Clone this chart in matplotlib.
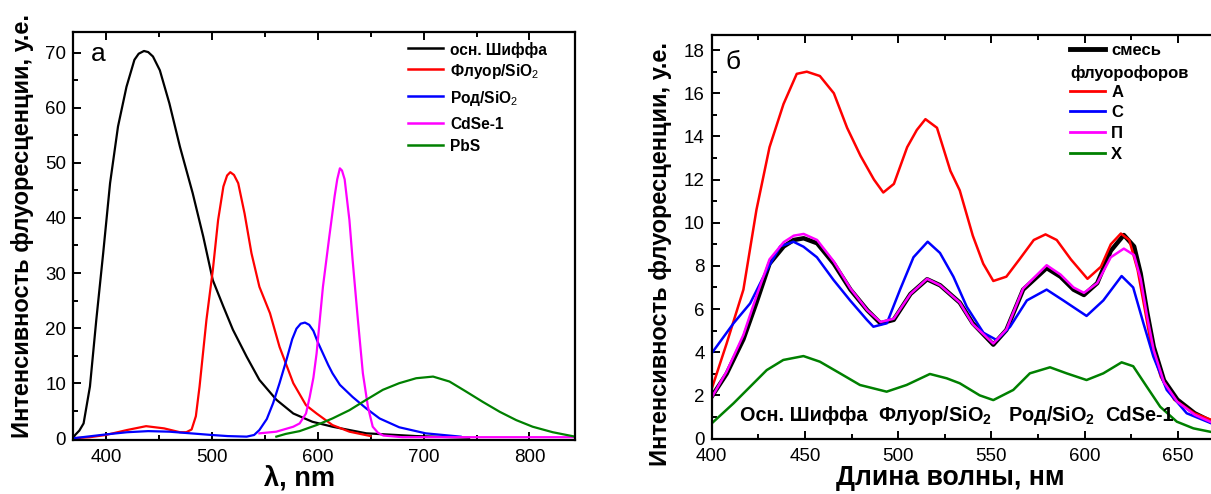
import numpy as np
import matplotlib
matplotlib.use("Agg")
import matplotlib.pyplot as plt
from matplotlib.ticker import MultipleLocator

plt.rcParams['font.family'] = ['Liberation Sans', 'DejaVu Sans']
plt.rcParams['mathtext.fontset'] = 'custom'
plt.rcParams['mathtext.rm'] = 'Liberation Sans'
plt.rcParams['mathtext.bf'] = 'Liberation Sans:bold'
plt.rcParams['lines.solid_joinstyle'] = 'round'

# --- panel (а): spectra of individual fluorophores ---
schiff_x = [369, 371, 375, 379, 385, 391, 397.5, 404, 411.5, 419.5, 427, 431, 436, 440, 444.5,
            451, 460, 470, 482, 492, 501, 511, 520, 533, 545, 561, 577, 595, 614, 646, 693, 743]
schiff_y = [0, 0.6, 1.4, 2.7, 9.4, 21.5, 33.6, 46.3, 56.6, 63.8, 68.7, 69.8, 70.3, 70.1, 69.3,
            66.8, 60.8, 52.9, 44.5, 36.6, 28.7, 23.9, 19.7, 14.8, 10.6, 7.0, 4.5, 3.0, 2.1, 0.9,
            0.4, 0.1]

fluor_x = [369, 385, 400, 420, 438, 455, 470, 476, 481, 485, 488.5, 495, 501, 506, 511, 514.5,
           517.5, 521, 525, 531, 537.5, 545, 555, 564, 577, 589, 599, 614, 630, 650]
fluor_y = [0, 0.2, 0.6, 1.5, 2.2, 1.8, 1.1, 1.1, 1.6, 4.0, 9.4, 21.5, 30.5, 39.6, 45.7, 47.7,
           48.3, 47.8, 46.3, 40.8, 33.6, 27.5, 22.7, 16.6, 10.0, 6.0, 4.5, 2.4, 1.2, 0.4]

rod_x = [369, 400, 420, 440, 460, 480, 500, 515, 533, 540, 545, 552, 558, 564, 570.5, 576, 580,
         584, 588, 592, 596, 600, 605, 610, 614, 621, 633, 646, 658.5, 677, 702, 735]
rod_y = [0, 0.7, 1.1, 1.3, 1.2, 0.9, 0.6, 0.4, 0.3, 0.6, 1.5, 3.5, 6.4, 10.0, 14.2, 18.0, 19.9,
         20.8, 21.0, 20.6, 19.5, 17.5, 15.4, 13.3, 11.8, 9.7, 7.5, 5.4, 3.6, 2.0, 0.9, 0.3]

cdse_x = [545, 561, 577, 583, 589, 592.5, 596, 599, 605, 611, 616, 618.5, 621, 623, 625.5, 630,
          633, 638, 642.7, 647.5, 652, 657, 662, 680, 720, 780, 843]
cdse_y = [0.9, 1.2, 2.1, 2.7, 4.5, 7.5, 11.0, 15.4, 27.5, 36.6, 43.9, 47.0, 49.0, 48.6, 47.0,
          39.6, 32.4, 21.5, 11.8, 5.7, 2.1, 1.0, 0.5, 0.2, 0.2, 0.2, 0.2]

pbs_x = [561, 570, 583, 599, 614, 630, 646, 661.6, 677, 693, 709, 724.5, 740, 756, 772, 787.5,
         803, 822, 843]
pbs_y = [0.3, 0.8, 1.3, 2.4, 3.6, 5.1, 7.0, 8.8, 10.0, 10.9, 11.2, 10.3, 8.5, 6.6, 4.8, 3.3,
         2.1, 1.1, 0.3]

# --- panel (б): mixture and reconstructions ---
mix_x = [400, 408, 417, 424, 431, 438.6, 444, 449.3, 456.5, 465.5, 474.4, 483.4, 490.5, 497.6,
         506.6, 515.5, 522.5, 533, 540, 551, 558, 567, 579.6, 587, 594, 599.6, 606.7, 614, 621,
         626.5, 630, 633.6, 637, 642.5, 649.7, 659, 668]
mix_y = [1.94, 3.0, 4.6, 6.3, 8.1, 8.9, 9.2, 9.28, 9.05, 8.1, 6.9, 5.95, 5.34, 5.5, 6.7, 7.38,
         7.1, 6.3, 5.34, 4.35, 5.03, 6.9, 7.9, 7.5, 6.9, 6.65, 7.2, 8.7, 9.43, 8.9, 7.65, 5.8,
         4.25, 2.7, 1.8, 1.17, 0.78]
p_y = [1.9, 3.1, 4.8, 6.6, 8.3, 9.1, 9.4, 9.48, 9.2, 8.2, 6.95, 5.95, 5.4, 5.55, 6.7, 7.4, 7.1,
       6.3, 5.3, 4.4, 5.05, 6.95, 8.03, 7.6, 7.0, 6.75, 7.2, 8.4, 8.8, 8.5, 7.4, 5.6, 4.1, 2.6,
       1.7, 1.1, 0.75]

a_x = [400, 408, 417, 424, 431, 438.5, 445.6, 451, 458, 465.5, 472.6, 479.8, 487, 492, 497.7,
       504.8, 510, 514.6, 520.8, 528, 533, 540, 545.6, 551, 558, 565, 572.7, 579, 585, 592.6,
       601.5, 608.7, 614, 619.4, 623.9, 628.4, 632, 635.5, 640.8, 648, 658.7, 668]
a_y = [2.3, 4.4, 6.9, 10.6, 13.5, 15.5, 16.9, 17.0, 16.8, 16.0, 14.4, 13.1, 12.0, 11.4, 11.8,
       13.5, 14.3, 14.8, 14.4, 12.4, 11.5, 9.4, 8.1, 7.3, 7.5, 8.3, 9.2, 9.46, 9.2, 8.3, 7.4,
       7.96, 9.0, 9.5, 9.2, 7.8, 6.1, 4.4, 2.86, 1.8, 1.17, 0.86]

c_x = [400, 411.7, 420.6, 429.5, 436.7, 443.8, 449.2, 456.4, 465.3, 474.2, 483.2, 486.7, 493.9,
       501, 508.2, 515.8, 522.4, 529.6, 536.8, 545.7, 552.9, 560, 569, 579.6, 588.5, 601, 610,
       619.8, 626, 631.5, 636.8, 644, 654.7, 668]
c_y = [3.95, 5.34, 6.26, 7.8, 8.9, 9.12, 8.89, 8.4, 7.35, 6.4, 5.5, 5.18, 5.34, 6.9, 8.4, 9.12,
       8.6, 7.5, 6.1, 4.9, 4.56, 5.18, 6.4, 6.9, 6.4, 5.68, 6.4, 7.53, 7.0, 5.34, 3.8, 2.25,
       1.17, 0.7]

kh_x = [400, 411.7, 420.6, 429.5, 438.4, 449.2, 458, 468.8, 479.5, 493.8, 504.5, 517, 526, 533,
        543.7, 551, 561.7, 570.6, 581.4, 590.3, 601, 610, 619.8, 626, 633.3, 640.5, 649.4,
        658.3, 668]
kh_y = [0.7, 1.63, 2.4, 3.17, 3.64, 3.82, 3.56, 3.02, 2.48, 2.17, 2.48, 2.99, 2.79, 2.56, 2.0,
        1.78, 2.25, 3.02, 3.3, 3.02, 2.71, 3.02, 3.53, 3.35, 2.4, 1.47, 0.78, 0.47, 0.3]

left_names = ['осн. Шиффа', r'Флуор/SiO$_{2}$', r'Род/SiO$_{2}$', 'CdSe-1', 'PbS']
right_names = ['А', 'С', 'П', 'Х']
peak_names = ['Осн. Шиффа', r'Флуор/SiO$_\mathbf{2}$', r'Род/SiO$_\mathbf{2}$', 'CdSe-1']
peak_pos = [415, 489, 559, 611]

RED, BLUE, MAG, GRN = '#ff0000', '#0000ff', '#ff00ff', '#008000'

fig = plt.figure(figsize=(12.11, 4.94), dpi=100)
ax1 = fig.add_axes([73 / 1211, 54.5 / 494, 502 / 1211, 407.8 / 494])
ax2 = fig.add_axes([711.7 / 1211, 55.5 / 494, 501.3 / 1211, 403.5 / 494])


def style(ax):
    for s in ax.spines.values():
        s.set_linewidth(1.6)
    ax.tick_params(which='both', direction='in', top=True, right=False, width=1.4,
                   labelsize=13.5)
    ax.tick_params(axis='x', pad=7)
    ax.tick_params(axis='y', pad=5)
    ax.tick_params(which='major', length=6)
    ax.tick_params(which='minor', length=3.5)


# panel а
lines1 = [(schiff_x, schiff_y, 'black'), (fluor_x, fluor_y, RED), (rod_x, rod_y, BLUE),
          (cdse_x, cdse_y, MAG), (pbs_x, pbs_y, GRN)]
for xs, ys, col in lines1:
    ax1.plot(xs, ys, color=col, lw=1.6)
ax1.set_xlim(369, 843)
ax1.set_ylim(-0.22, 73.8)
ax1.xaxis.set_major_locator(MultipleLocator(100))
ax1.xaxis.set_minor_locator(MultipleLocator(50))
ax1.yaxis.set_major_locator(MultipleLocator(10))
ax1.yaxis.set_minor_locator(MultipleLocator(5))
style(ax1)

leg_rows1 = [48, 69, 96, 123, 145]
for (xs, ys, col), name, py in zip(lines1, left_names, leg_rows1):
    yy = (439.5 - py) / 407.8
    ax1.plot([0.667, 0.737], [yy, yy], color=col, lw=1.8, transform=ax1.transAxes,
             clip_on=False)
    ax1.text(0.751, yy, name, transform=ax1.transAxes, fontsize=11.2, fontweight='bold',
             va='center_baseline', ha='left')

ax1.text(0.05, 0.945, 'а', transform=ax1.transAxes, fontsize=19, ha='center', va='center')
ax1.text(0.452, -0.096, 'λ, nm', transform=ax1.transAxes, fontsize=19.5, fontweight='bold',
         ha='center', va='center')
ax1.text(-0.101, 0.524, 'Интенсивность флуоресценции, у.е.', transform=ax1.transAxes,
         fontsize=17, fontweight='bold', rotation=90, ha='center', va='center')

# panel б
ax2.plot(mix_x, mix_y, color='black', lw=3.2)
lines2 = [(a_x, a_y, RED), (c_x, c_y, BLUE), (mix_x, p_y, MAG), (kh_x, kh_y, GRN)]
for xs, ys, col in lines2:
    ax2.plot(xs, ys, color=col, lw=1.8)
ax2.set_xlim(400, 668.8)
ax2.set_ylim(0, 18.7)
ax2.xaxis.set_major_locator(MultipleLocator(50))
ax2.xaxis.set_minor_locator(MultipleLocator(25))
ax2.yaxis.set_major_locator(MultipleLocator(2))
ax2.yaxis.set_minor_locator(MultipleLocator(1))
style(ax2)


def ry(py):
    return (438.5 - py) / 403.5


ax2.plot([0.715, 0.785], [ry(49), ry(49)], color='black', lw=3.5, transform=ax2.transAxes,
         clip_on=False)
ax2.text(0.797, ry(49), 'смесь', transform=ax2.transAxes, fontsize=12, fontweight='bold',
         va='center_baseline')
ax2.text(0.715, ry(71.7), 'флуорофоров', transform=ax2.transAxes, fontsize=12,
         fontweight='bold', va='center_baseline')
for (xs, ys, col), name, py in zip(lines2, right_names, [90.7, 110.7, 132, 153]):
    ax2.plot([0.715, 0.785], [ry(py), ry(py)], color=col, lw=2, transform=ax2.transAxes,
             clip_on=False)
    ax2.text(0.797, ry(py), name, transform=ax2.transAxes, fontsize=12, fontweight='bold',
             va='center_baseline')

for name, xp in zip(peak_names, peak_pos):
    ax2.text(xp, 0.81, name, fontsize=14.3, fontweight='bold', ha='left', va='baseline')

ax2.text(0.042, 0.933, 'б', transform=ax2.transAxes, fontsize=19, ha='center', va='center')
ax2.text(0.475, -0.098, 'Длина волны, нм', transform=ax2.transAxes, fontsize=19.2,
         fontweight='bold', ha='center', va='center')
ax2.text(-0.103, 0.457, 'Интенсивность флуоресценции, у.е.', transform=ax2.transAxes,
         fontsize=17, fontweight='bold', rotation=90, ha='center', va='center')

fig.savefig('out.png', dpi=100)
